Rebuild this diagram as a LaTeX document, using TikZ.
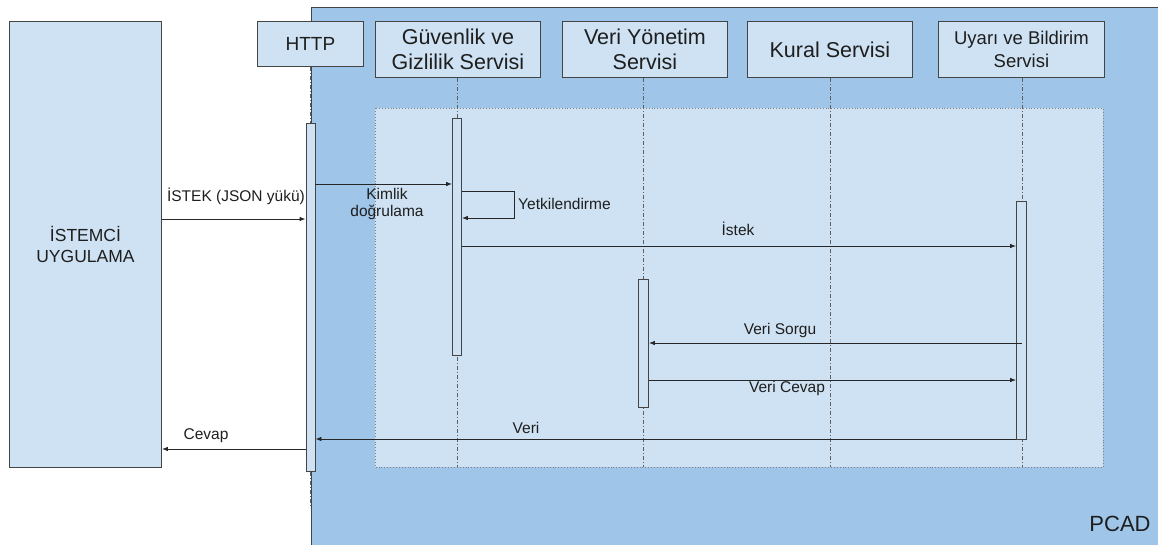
\documentclass[tikz,border=0pt]{standalone}
\usepackage{fontspec}
\setmainfont{Liberation Sans}
\usetikzlibrary{arrows.meta}
\definecolor{pcadblue}{HTML}{9FC5E8}
\definecolor{paleblue}{HTML}{CFE2F3}
\definecolor{edgegray}{HTML}{444444}
\definecolor{ink}{HTML}{1E1E1E}
\begin{document}
\begin{tikzpicture}[x=1pt,y=-1pt,
  box/.style={draw=edgegray, fill=paleblue, line width=0.9pt, inner sep=0pt,
    align=center, text=ink, anchor=north west},
  headbig/.style={box, font=\fontsize{21.5}{24.5}\selectfont},
  actbar/.style={draw=edgegray, fill=paleblue, line width=0.8pt, inner sep=0pt,
    minimum width=9pt, anchor=north},
  lifeline/.style={draw=edgegray!85, line width=0.8pt,
    dash pattern=on 4pt off 2pt on 1pt off 2pt},
  msg/.style={draw=black!85, line width=0.8pt, -{Latex[length=6pt,width=4.5pt]}},
  msglabel/.style={text=ink, font=\fontsize{15.5}{17.5}\selectfont, align=center, inner sep=0pt}]

\useasboundingbox (0,0) rectangle (1158,544);

% PCAD system area
\fill[pcadblue] (311,7) rectangle (1162,548);
\draw[edgegray, line width=0.9pt] (1162,7) -- (311,7) -- (311,548);
\node[text=ink, font=\fontsize{22}{24}\selectfont, anchor=center] (pcad) at (1120,524) {PCAD};

% dotted interaction frame
\draw[gray, dotted, line width=0.9pt, fill=paleblue] (375,108) rectangle (1103,467);

% client application
\node[box, minimum width=152pt, minimum height=446pt,
  font=\fontsize{17.5}{21}\selectfont] (client) at (9,21) {İSTEMCİ\\UYGULAMA};

% participant headers
\node[box, minimum width=106pt, minimum height=45pt,
  font=\fontsize{19}{22}\selectfont] (http) at (257,21) {HTTP};
\node[headbig, minimum width=165pt, minimum height=56pt] (sec) at (375,21) {Güvenlik ve\\Gizlilik Servisi};
\node[headbig, minimum width=165pt, minimum height=56pt] (data) at (562,21) {Veri Yönetim\\Servisi};
\node[headbig, minimum width=165pt, minimum height=56pt] (rule) at (747,21) {Kural Servisi};
\node[box, minimum width=166pt, minimum height=56pt,
  font=\fontsize{18.5}{22.5}\selectfont] (alert) at (938,21) {Uyarı ve Bildirim\\Servisi};

% lifeline ends
\coordinate (httpEnd) at (310,505);
\coordinate (secEnd) at (457,467);
\coordinate (dataEnd) at (643,467);
\coordinate (ruleEnd) at (830,467);
\coordinate (alertEnd) at (1022,467);

\draw[lifeline] (http.south -| httpEnd) -- (httpEnd);
\draw[lifeline] (sec.south -| secEnd) -- (secEnd);
\draw[lifeline] (data.south -| dataEnd) -- (dataEnd);
\draw[lifeline] (rule.south -| ruleEnd) -- (ruleEnd);
\draw[lifeline] (alert.south -| alertEnd) -- (alertEnd);

% activation bars
\node[actbar, minimum height=348pt] (httpBar) at (310.5,123) {};
\node[actbar, minimum height=237pt] (secBar) at (457,118) {};
\node[actbar, minimum width=10pt, minimum height=128pt] (dataBar) at (643.5,279) {};
\node[actbar, minimum width=10pt, minimum height=238pt] (alertBar) at (1021.5,201) {};

% message levels
\coordinate (yReq) at (0,219);
\coordinate (yAuth) at (0,184);
\coordinate (yLoopA) at (0,191);
\coordinate (yLoopB) at (0,218);
\coordinate (loopX) at (514,0);
\coordinate (yIstek) at (0,246);
\coordinate (yQuery) at (0,343);
\coordinate (yAnswer) at (0,380);
\coordinate (yData) at (0,439);
\coordinate (yResp) at (0,449);

% messages
\draw[msg] (client.east |- yReq) -- (httpBar.west |- yReq);
\node[msglabel] (lReq) at (236,196) {İSTEK (JSON yükü)};

\draw[msg] (httpBar.east |- yAuth) -- (secBar.west |- yAuth);
\node[msglabel] (lAuth) at (387,204) {Kimlik\\doğrulama};

\draw[msg] (secBar.east |- yLoopA) -- (loopX |- yLoopA) -- (loopX |- yLoopB) -- (secBar.east |- yLoopB);
\node[msglabel, anchor=west] (lLoop) at (518,204) {Yetkilendirme};

\draw[msg] (secBar.east |- yIstek) -- (alertBar.west |- yIstek);
\node[msglabel] (lIstek) at (738,229) {İstek};

\draw[msg] (alertBar.center |- yQuery) -- (dataBar.east |- yQuery);
\node[msglabel] (lQuery) at (780,330) {Veri Sorgu};

\draw[msg] (dataBar.east |- yAnswer) -- (alertBar.west |- yAnswer);
\node[msglabel] (lAnswer) at (787,388) {Veri Cevap};

\draw[msg] (alertBar.west |- yData) -- (httpBar.east |- yData);
\node[msglabel] (lData) at (526,428) {Veri};

\draw[msg] (httpBar.west |- yResp) -- (client.east |- yResp);
\node[msglabel] (lResp) at (206,436) {Cevap};

\end{tikzpicture}
\end{document}
